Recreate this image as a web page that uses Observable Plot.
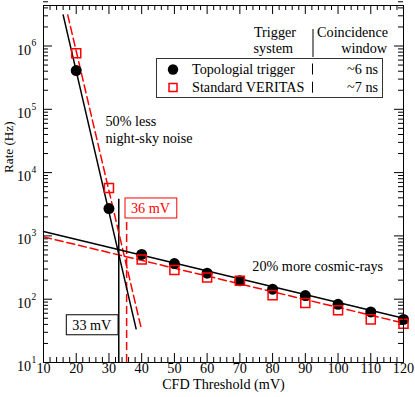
<!DOCTYPE html>
<html><head><meta charset="utf-8">
<script src="https://cdn.jsdelivr.net/npm/d3@7"></script>
<script src="https://cdn.jsdelivr.net/npm/@observablehq/plot@0.6"></script>
<style>
html,body{margin:0;padding:0;background:#fff;}
svg{display:block;}
</style>
</head><body><div id="chart"></div>
<script>
// ---- data ----
const thresholds = [20, 30, 40, 50, 60, 70, 80, 90, 100, 110, 120];
const topoRate = [4.1e5, 2.7e3, 510, 365, 258, 195, 144, 114, 83, 63, 48];
const stdRate  = [7.7e5, 5.7e3, 425, 290, 220, 195, 116, 87, 67, 48, 41];
const topoSteepX = [16.0, 38.3], topoSteepY = [3.1e6, 34];
const stdSteepX  = [17.4, 39.9], stdSteepY  = [3.1e6, 34];
const topoFlatX = [10, 120], topoFlatY = [1170, 50];
const stdFlatX  = [10, 120], stdFlatY  = [965, 42];
const topoThreshold = 33, topoThresholdTop = 3800;
const stdThreshold = 35.4, stdThresholdTop = 1800;
const xTicks = [10, 20, 30, 40, 50, 60, 70, 80, 90, 100, 110, 120];
const yExponents = [1, 2, 3, 4, 5, 6];
const legendNames = ["Topologial trigger", "Standard VERITAS"];
const legendWindows = ["~6 ns", "~7 ns"];

const W = 415, H = 397, mL = 43, mR = 12, mT = 5, mB = 35;
const iW = W - mL - mR, iH = H - mT - mB;
const font = "Liberation Serif";
const fs = 14.2;
const red = "#ff0000";

const pts = (xs, ys) => xs.map((x, i) => ({x, y: ys[i]}));
const topo = pts(thresholds, topoRate);
const std = pts(thresholds, stdRate);

const xMinor = d3.range(10, 121, 2).filter(v => v % 10 !== 0);
const yMajor = yExponents.map(e => 10 ** e);
const yMinor = [];
for (let e = 1; e <= 6; e++) for (let k = 2; k <= 9; k++) yMinor.push(k * 10 ** e);

const majorLen = 9, minorLen = 5;
const tk = {stroke: "black", strokeWidth: 1};
const T = {fontSize: fs, fill: "black", fontFamily: font};

const chart = Plot.plot({
  width: W, height: H,
  marginLeft: mL, marginRight: mR, marginTop: mT, marginBottom: mB,
  style: {fontFamily: font, background: "white"},
  x: {domain: [10, 120], axis: null},
  y: {type: "log", domain: [10, 10 ** 6.64], axis: null},
  marks: [
    Plot.ruleX(xTicks, {x: d => d, insetTop: iH - majorLen, ...tk}),
    Plot.ruleX(xMinor, {x: d => d, insetTop: iH - minorLen, ...tk}),
    Plot.ruleX(xTicks, {x: d => d, insetBottom: iH - majorLen, ...tk}),
    Plot.ruleX(xMinor, {x: d => d, insetBottom: iH - minorLen, ...tk}),
    Plot.ruleY(yMajor, {y: d => d, insetRight: iW - majorLen, ...tk}),
    Plot.ruleY(yMinor, {y: d => d, insetRight: iW - minorLen, ...tk}),
    Plot.ruleY(yMajor, {y: d => d, insetLeft: iW - majorLen, ...tk}),
    Plot.ruleY(yMinor, {y: d => d, insetLeft: iW - minorLen, ...tk}),
    Plot.text(xTicks, {x: d => d, frameAnchor: "bottom", dy: 10.5, text: d => String(d), ...T}),
    Plot.text(yExponents, {y: d => 10 ** d, frameAnchor: "left", textAnchor: "end", dx: -12.3, dy: 4, text: () => "10", ...T}),
    Plot.text(yExponents, {y: d => 10 ** d, frameAnchor: "left", textAnchor: "start", dx: -12, dy: -2.7, text: d => String(d), ...T, fontSize: 9.5}),
    Plot.text(["CFD Threshold (mV)"], {frameAnchor: "bottom", dy: 26.5, ...T}),
    Plot.text(["Rate (Hz)"], {frameAnchor: "left", dx: -34.5, dy: -11, rotate: -90, ...T, fontSize: 13.2}),
    Plot.ruleX([topoThreshold], {x: d => d, y1: 10, y2: topoThresholdTop, stroke: "black", strokeWidth: 1.5}),
    Plot.ruleX([stdThreshold], {x: d => d, y1: 10, y2: stdThresholdTop, stroke: red, strokeWidth: 1.5, strokeDasharray: "8,4"}),
    Plot.line(pts(stdSteepX, stdSteepY), {x: "x", y: "y", stroke: red, strokeWidth: 1.5, strokeDasharray: "8,4"}),
    Plot.line(pts(stdFlatX, stdFlatY), {x: "x", y: "y", stroke: red, strokeWidth: 1.5, strokeDasharray: "8,4"}),
    Plot.line(pts(topoSteepX, topoSteepY), {x: "x", y: "y", stroke: "black", strokeWidth: 1.5}),
    Plot.line(pts(topoFlatX, topoFlatY), {x: "x", y: "y", stroke: "black", strokeWidth: 1.5}),
    Plot.dot(topo, {x: "x", y: "y", r: 5.5, fill: "black", stroke: "none"}),
    Plot.dot(std, {x: "x", y: "y", symbol: "square", r: 5.1, fill: "none", stroke: red, strokeWidth: 1.5}),
    Plot.text(["50% less"], {x: 28.94, y: 10 ** 4.804, textAnchor: "start", ...T}),
    Plot.text(["night-sky noise"], {x: 28.94, y: 10 ** 4.543, textAnchor: "start", ...T}),
    Plot.text(["20% more cosmic-rays"], {x: 73.8, y: 10 ** 2.518, textAnchor: "start", ...T}),
    Plot.text(["33 mV"], {x: 24.76, y: 10 ** 1.589, ...T}),
    Plot.text(["36 mV"], {x: 42.7, y: 10 ** 3.434, ...T, fill: red}),
    Plot.frame({stroke: "black", strokeWidth: 1})
  ]
});
document.getElementById("chart").appendChild(chart);

const svg = d3.select(chart);
[["33 mV", "black"], ["36 mV", red]].forEach(([label, col]) => {
  svg.selectAll("text").filter(function () { return this.textContent === label; }).each(function () {
    const b = this.getBBox();
    d3.select(this.parentNode).insert("rect", "text")
      .attr("transform", this.getAttribute("transform"))
      .attr("x", b.x - 6).attr("y", b.y - 2)
      .attr("width", b.width + 12).attr("height", b.height + 4)
      .attr("fill", "white").attr("stroke", col).attr("stroke-width", 1);
  });
});

const lg = svg.append("g").attr("font-family", font).attr("font-size", fs).attr("fill", "black").attr("text-anchor", "start");
const addText = (x, y, s, anchor) => lg.append("text").attr("x", x).attr("y", y)
  .attr("text-anchor", anchor).attr("font-family", font).text(s);
addText(296, 37, "Trigger", "end");
addText(293, 53, "system", "end");
addText(388, 37, "Coincidence", "end");
addText(387, 53, "window", "end");
lg.append("line").attr("x1", 313).attr("x2", 313).attr("y1", 29).attr("y2", 57).attr("stroke", "black");
lg.append("rect").attr("x", 156.5).attr("y", 58.5).attr("width", 226).attr("height", 39)
  .attr("fill", "white").attr("stroke", "#333").attr("stroke-width", 1);
const rowY = [73.5, 91.7];
lg.append("circle").attr("cx", 173).attr("cy", 69.5).attr("r", 5.2).attr("fill", "black");
lg.append("rect").attr("x", 169).attr("y", 83.5).attr("width", 8).attr("height", 8)
  .attr("fill", "none").attr("stroke", red).attr("stroke-width", 1.5);
legendNames.forEach((n, i) => {
  addText(192, rowY[i], n, "start");
  lg.append("line").attr("x1", 312.5).attr("x2", 312.5).attr("y1", rowY[i] - 10).attr("y2", rowY[i] + 1).attr("stroke", "black").attr("stroke-width", 1);
  addText(378, rowY[i], legendWindows[i], "end");
});
</script>
</body></html>
